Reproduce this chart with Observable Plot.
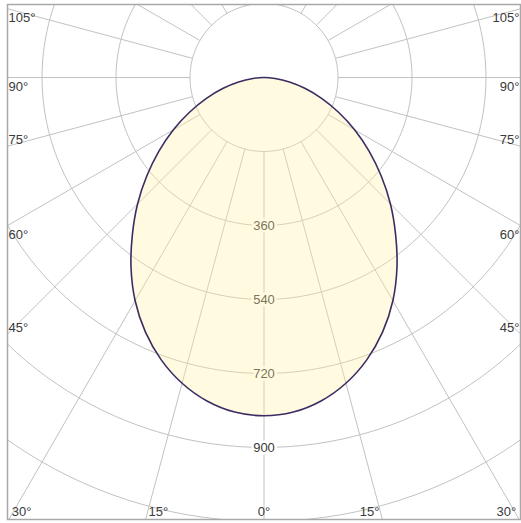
<!DOCTYPE html>
<html><head><meta charset="utf-8">
<script src="https://cdn.jsdelivr.net/npm/d3@7"></script>
<script src="https://cdn.jsdelivr.net/npm/@observablehq/plot@0.6"></script>
<style>html,body{margin:0;padding:0;background:#fff}svg{display:block}</style>
</head><body><div id="chart"></div>
<script>
// Luminous intensity (cd) by gamma angle (degrees from nadir), symmetric C-plane
const gammaAngles = [0, 5, 10, 15, 20, 25, 30, 35, 40, 45, 50, 55, 60, 65, 70, 75, 80, 85, 90];
const intensityCd = [823, 817, 799, 770, 731, 683, 627, 564, 498, 435, 372, 312, 255, 200, 150, 104, 63, 27, 0];
// Grid
const ringValues = [180, 360, 540, 720, 900, 1080, 1260];
const ringLabels = [360, 540, 720, 900];
const radialAngles = d3.range(0, 360, 15);
// Angle tick labels
const sideLabelAngles = [105, 90, 75, 60, 45];
const sideLabelsAbove = [75, 45];
const bottomLabelAngles = [-30, -15, 0, 15, 30];

const W = 521, H = 523;
const mL = 7, mR = 1, mT = 4, mB = 4;
const xHalf = 624;                       // cd across half the frame
const pxPerCd = (W - mL - mR) / (2 * xHalf);
const centerPy = 77;                     // pixel row of the luminaire centre
const yTop = (centerPy - mT) / pxPerCd;
const yBottom = -(H - mB - centerPy) / pxPerCd;
const rad = d => d * Math.PI / 180;

// Curve points (right side then mirrored left side)
const right = gammaAngles.map((g, i) => ({x: intensityCd[i] * Math.sin(rad(g)), y: -intensityCd[i] * Math.cos(rad(g))}));
const left = gammaAngles.slice(1, -1).map((g, i) => ({g, I: intensityCd[i + 1]})).reverse()
  .map(({g, I}) => ({x: -I * Math.sin(rad(g)), y: -I * Math.cos(rad(g))}));
const eggPts = [...right, ...left];

const circlePts = ringValues.flatMap(r => d3.range(0, 361, 2).map(a => ({r, x: r * Math.sin(rad(a)), y: r * Math.cos(rad(a))})));
const radials = radialAngles.map(a => ({
  x1: 180 * Math.sin(rad(a)), y1: -180 * Math.cos(rad(a)),
  x2: 1800 * Math.sin(rad(a)), y2: -1800 * Math.cos(rad(a))
}));
const sideY = a => -xHalf * Math.cos(rad(a)) / Math.sin(rad(a));
const bottomX = a => -yBottom * Math.tan(rad(a));

const font = "Liberation Sans, Arial, sans-serif";
const txt = "#3a3a3a";
const grid = "#c2c2c2";

const sideTop = sideLabelAngles.filter(a => !sideLabelsAbove.includes(a));
const sideBot = sideLabelAngles.filter(a => sideLabelsAbove.includes(a));
const botLeft = bottomLabelAngles.filter(a => a < 0);
const botMid = bottomLabelAngles.filter(a => a === 0);
const botRight = bottomLabelAngles.filter(a => a > 0);
const deg = d => Math.abs(d) + "°";
const botOpts = {x: bottomX, text: deg, frameAnchor: "bottom", lineAnchor: "bottom", dy: -4, fill: txt, fontSize: 13};

const chart = Plot.plot({
  width: W, height: H,
  marginLeft: mL, marginRight: mR, marginTop: mT, marginBottom: mB,
  x: {domain: [-xHalf, xHalf], axis: null},
  y: {domain: [yBottom, yTop], axis: null},
  style: {fontFamily: font, background: "#fff"},
  marks: [
    Plot.line(circlePts, {x: "x", y: "y", z: "r", stroke: grid, strokeWidth: 1, clip: true}),
    Plot.link(radials, {x1: "x1", y1: "y1", x2: "x2", y2: "y2", stroke: grid, strokeWidth: 1, clip: true}),
    Plot.frame({stroke: "#a8a8a8", strokeWidth: 1.5}),
    Plot.text(ringLabels, {x: () => 0, y: d => -d, text: d => String(d), fill: txt, stroke: "white", strokeWidth: 5, fontSize: 13}),
    // side labels (left & right)
    Plot.text(sideTop, {y: sideY, text: deg, frameAnchor: "left", textAnchor: "start", lineAnchor: "top", dx: 1, dy: 4, fill: txt, fontSize: 13}),
    Plot.text(sideTop, {y: sideY, text: deg, frameAnchor: "right", textAnchor: "end", lineAnchor: "top", dx: -1, dy: 4, fill: txt, fontSize: 13}),
    Plot.text(sideBot, {y: sideY, text: deg, frameAnchor: "left", textAnchor: "start", lineAnchor: "bottom", dx: 1, dy: -2, fill: txt, fontSize: 13}),
    Plot.text(sideBot, {y: sideY, text: deg, frameAnchor: "right", textAnchor: "end", lineAnchor: "bottom", dx: -1, dy: -2, fill: txt, fontSize: 13}),
    // bottom labels
    Plot.text(botLeft, {...botOpts, textAnchor: "start", dx: 3}),
    Plot.text(botMid, {...botOpts, textAnchor: "middle"}),
    Plot.text(botRight, {...botOpts, textAnchor: "end", dx: -3}),
    // intensity curve
    Plot.line(eggPts, {x: "x", y: "y", curve: "catmull-rom-closed", fill: "#fff0a0", fillOpacity: 0.32, stroke: "#3b2d63", strokeWidth: 1.6})
  ]
});
document.getElementById("chart").appendChild(chart);
</script>
</body></html>
